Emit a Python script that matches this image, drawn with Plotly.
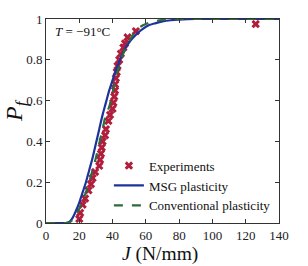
import plotly.graph_objects as go

# Experimental data
exp_J = [20, 20.5, 22, 23.5, 25.5, 27, 28, 29.5, 32, 32.5, 33, 33.5, 34, 35.5, 36, 37.5,
         38.5, 40, 40.5, 41, 41.5, 41.5, 42, 42.5, 43, 44, 45, 46.5, 47.5, 49, 54, 126]
exp_P = [0.02, 0.05, 0.09, 0.12, 0.16, 0.19, 0.22, 0.25, 0.28, 0.31, 0.34, 0.37, 0.40, 0.43,
         0.46, 0.50, 0.53, 0.56, 0.59, 0.62, 0.65, 0.68, 0.71, 0.74, 0.77, 0.80, 0.83, 0.86,
         0.88, 0.91, 0.94, 0.975]

# Curves
curve_J = [0, 5, 10, 12, 14, 16, 18, 20, 22, 24, 26, 28, 30, 32, 34, 36, 38, 40, 42, 44,
           46, 48, 50, 52, 55, 58, 62, 66, 70, 75, 80, 90, 100, 120, 140]
msg_P = [0, 0, 0, 0, 0.005, 0.025, 0.06, 0.10, 0.15, 0.20, 0.26, 0.32, 0.39, 0.46, 0.53,
         0.59, 0.65, 0.70, 0.75, 0.79, 0.83, 0.86, 0.885, 0.905, 0.93, 0.95, 0.97, 0.98,
         0.988, 0.994, 0.997, 1, 1, 1, 1]
conv_P = [0, 0, 0, 0, 0.003, 0.015, 0.04, 0.07, 0.11, 0.15, 0.20, 0.26, 0.32, 0.39, 0.46,
          0.53, 0.57, 0.64, 0.71, 0.77, 0.82, 0.86, 0.89, 0.92, 0.95, 0.968, 0.982, 0.99,
          0.995, 0.998, 1, 1, 1, 1, 1]

x_ticks = [0, 20, 40, 60, 80, 100, 120, 140]
y_ticks = [0, 0.2, 0.4, 0.6, 0.8, 1]
y_tick_labels = ["0", "0.2", "0.4", "0.6", "0.8", "1"]

font_family = "'Liberation Serif', 'Times New Roman', serif"
red = "#b01e3c"
blue = "#1c339c"
green = "#2d6a3e"

fig = go.Figure()
fig.add_trace(go.Scatter(x=exp_J, y=exp_P, mode="markers", name="Experiments",
                         marker=dict(symbol="x", size=7.5, color=red, line=dict(width=0))))
fig.add_trace(go.Scatter(x=curve_J, y=msg_P, mode="lines", name="MSG plasticity",
                         line=dict(color=blue, width=2.2, shape="spline")))
fig.add_trace(go.Scatter(x=curve_J, y=conv_P, mode="lines", name="Conventional plasticity",
                         line=dict(color=green, width=2.2, dash="dash", shape="spline")))

fig.add_annotation(x=0.03, y=0.985, xref="paper", yref="paper", xanchor="left", yanchor="top",
                   text="<i>T</i> = −91°C", showarrow=False,
                   font=dict(family=font_family, size=13, color="#111"))
# axis titles
fig.add_annotation(x=0.49, y=-0.212, xref="paper", yref="paper", xanchor="center", yanchor="bottom",
                   text="<i>J</i> (N/mm)", showarrow=False, borderpad=0,
                   font=dict(family=font_family, size=19.5, color="#111"))
fig.add_annotation(x=-0.055, y=0.55, xref="paper", yref="paper", xanchor="right", yanchor="middle",
                   text="<i>P<sub>f</sub></i>", showarrow=False, textangle=-90,
                   font=dict(family=font_family, size=24, color="#111"))

axis_common = dict(showgrid=False, zeroline=False, showline=True, linecolor="#333",
                   linewidth=1, mirror="ticks", ticks="inside", ticklen=4, tickcolor="#333",
                   automargin=False,
                   tickfont=dict(family=font_family, size=13, color="#222"))

fig.update_xaxes(range=[0, 140], tickvals=x_ticks, **axis_common)
fig.update_yaxes(range=[0, 1], tickvals=y_ticks, ticktext=y_tick_labels, **axis_common)

fig.update_layout(
    width=308, height=266,
    margin=dict(l=46, r=29, t=19, b=43),
    paper_bgcolor="white", plot_bgcolor="white",
    font=dict(family=font_family),
    showlegend=True,
    legend=dict(x=0.27, y=0.355, xanchor="left", yanchor="top", bgcolor="rgba(0,0,0,0)",
                font=dict(family=font_family, size=13, color="#111"),
                tracegroupgap=0, itemwidth=30),
)

fig.write_html("out.html", config={"displayModeBar": False},
               post_script="document.body.style.margin='0';document.body.style.overflow='hidden';")
